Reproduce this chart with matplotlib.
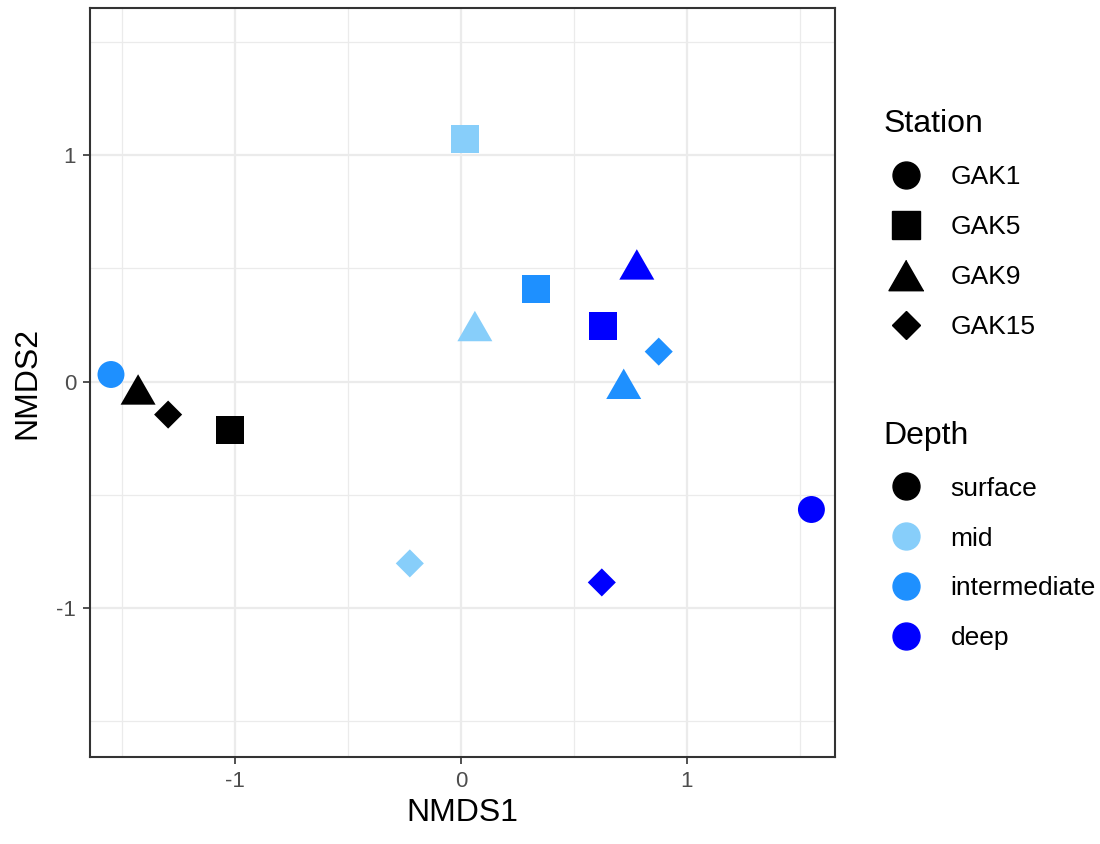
import matplotlib
matplotlib.use('Agg')
import matplotlib.pyplot as plt
from matplotlib.lines import Line2D

plt.rcParams['font.family'] = ['Liberation Sans', 'DejaVu Sans']
plt.rcParams['axes.unicode_minus'] = False

station = ['GAK1', 'GAK9', 'GAK15', 'GAK5', 'GAK5', 'GAK9', 'GAK5',
           'GAK9', 'GAK5', 'GAK15', 'GAK9', 'GAK1', 'GAK15', 'GAK15']
depth = ['intermediate', 'surface', 'surface', 'surface', 'mid', 'mid', 'intermediate',
         'deep', 'deep', 'intermediate', 'intermediate', 'deep', 'mid', 'deep']
nmds1 = [-1.549, -1.429, -1.296, -1.022, 0.019, 0.062, 0.332,
         0.779, 0.628, 0.876, 0.721, 1.552, -0.226, 0.624]
nmds2 = [0.031, -0.035, -0.146, -0.216, 1.072, 0.245, 0.410,
         0.517, 0.247, 0.132, -0.010, -0.565, -0.803, -0.887]

stations = ['GAK1', 'GAK5', 'GAK9', 'GAK15']
depths = ['surface', 'mid', 'intermediate', 'deep']

tri = [(0, 1), (-1.15, -1), (1.15, -1)]
markers = {'GAK1': 'o', 'GAK5': 's', 'GAK9': tri, 'GAK15': 'D'}
msize = {'GAK1': 19.4, 'GAK5': 20.2, 'GAK9': 25.2, 'GAK15': 14.3}
colors = {'surface': 'black', 'mid': '#87CEFA', 'intermediate': '#1E90FF', 'deep': '#0000FF'}

fig = plt.figure(figsize=(11, 8.44), dpi=100)
ax = fig.add_axes([0.0818, 0.103, 0.677, 0.8875])

for s, d, x, y in zip(station, depth, nmds1, nmds2):
    ax.scatter(x, y, marker=markers[s], s=msize[s] ** 2, color=colors[d],
               edgecolors='none', zorder=3)

ax.set_xlim(-1.642, 1.655)
ax.set_ylim(-1.658, 1.649)
ax.set_xticks([-1, 0, 1])
ax.set_yticks([-1, 0, 1])
ax.set_xticks([-1.5, -0.5, 0.5, 1.5], minor=True)
ax.set_yticks([-1.5, -0.5, 0.5, 1.5], minor=True)
ax.grid(True, which='major', color='#EBEBEB', linewidth=1.6)
ax.grid(True, which='minor', color='#EBEBEB', linewidth=0.9)
ax.set_axisbelow(True)
ax.tick_params(which='minor', length=0)
ax.tick_params(which='major', length=5, width=1.2, color='#333333',
               labelsize=16, labelcolor='#4D4D4D', pad=5)
for sp in ax.spines.values():
    sp.set_color('#333333')
    sp.set_linewidth(1.5)

ax.set_xlabel('NMDS1', fontsize=23, labelpad=4)
ax.set_ylabel('NMDS2', fontsize=23, labelpad=10)

st_handles = [Line2D([], [], marker=markers[s], color='black', linestyle='none',
                     markersize=msize[s]) for s in stations]
dp_handles = [Line2D([], [], marker='o', color=colors[d], linestyle='none',
                     markersize=msize['GAK1']) for d in depths]

common = dict(loc='upper left', frameon=False, fontsize=19, title_fontsize=23,
              labelspacing=0.98, handletextpad=0.85, alignment='left', borderpad=0,
              handlelength=1.7)
leg1 = fig.legend(st_handles, stations, title='Station',
                  bbox_to_anchor=(0.791, 0.886), **common)
leg2 = fig.legend(dp_handles, depths, title='Depth',
                  bbox_to_anchor=(0.791, 0.517), **common)

fig.savefig('out.png', dpi=100)
